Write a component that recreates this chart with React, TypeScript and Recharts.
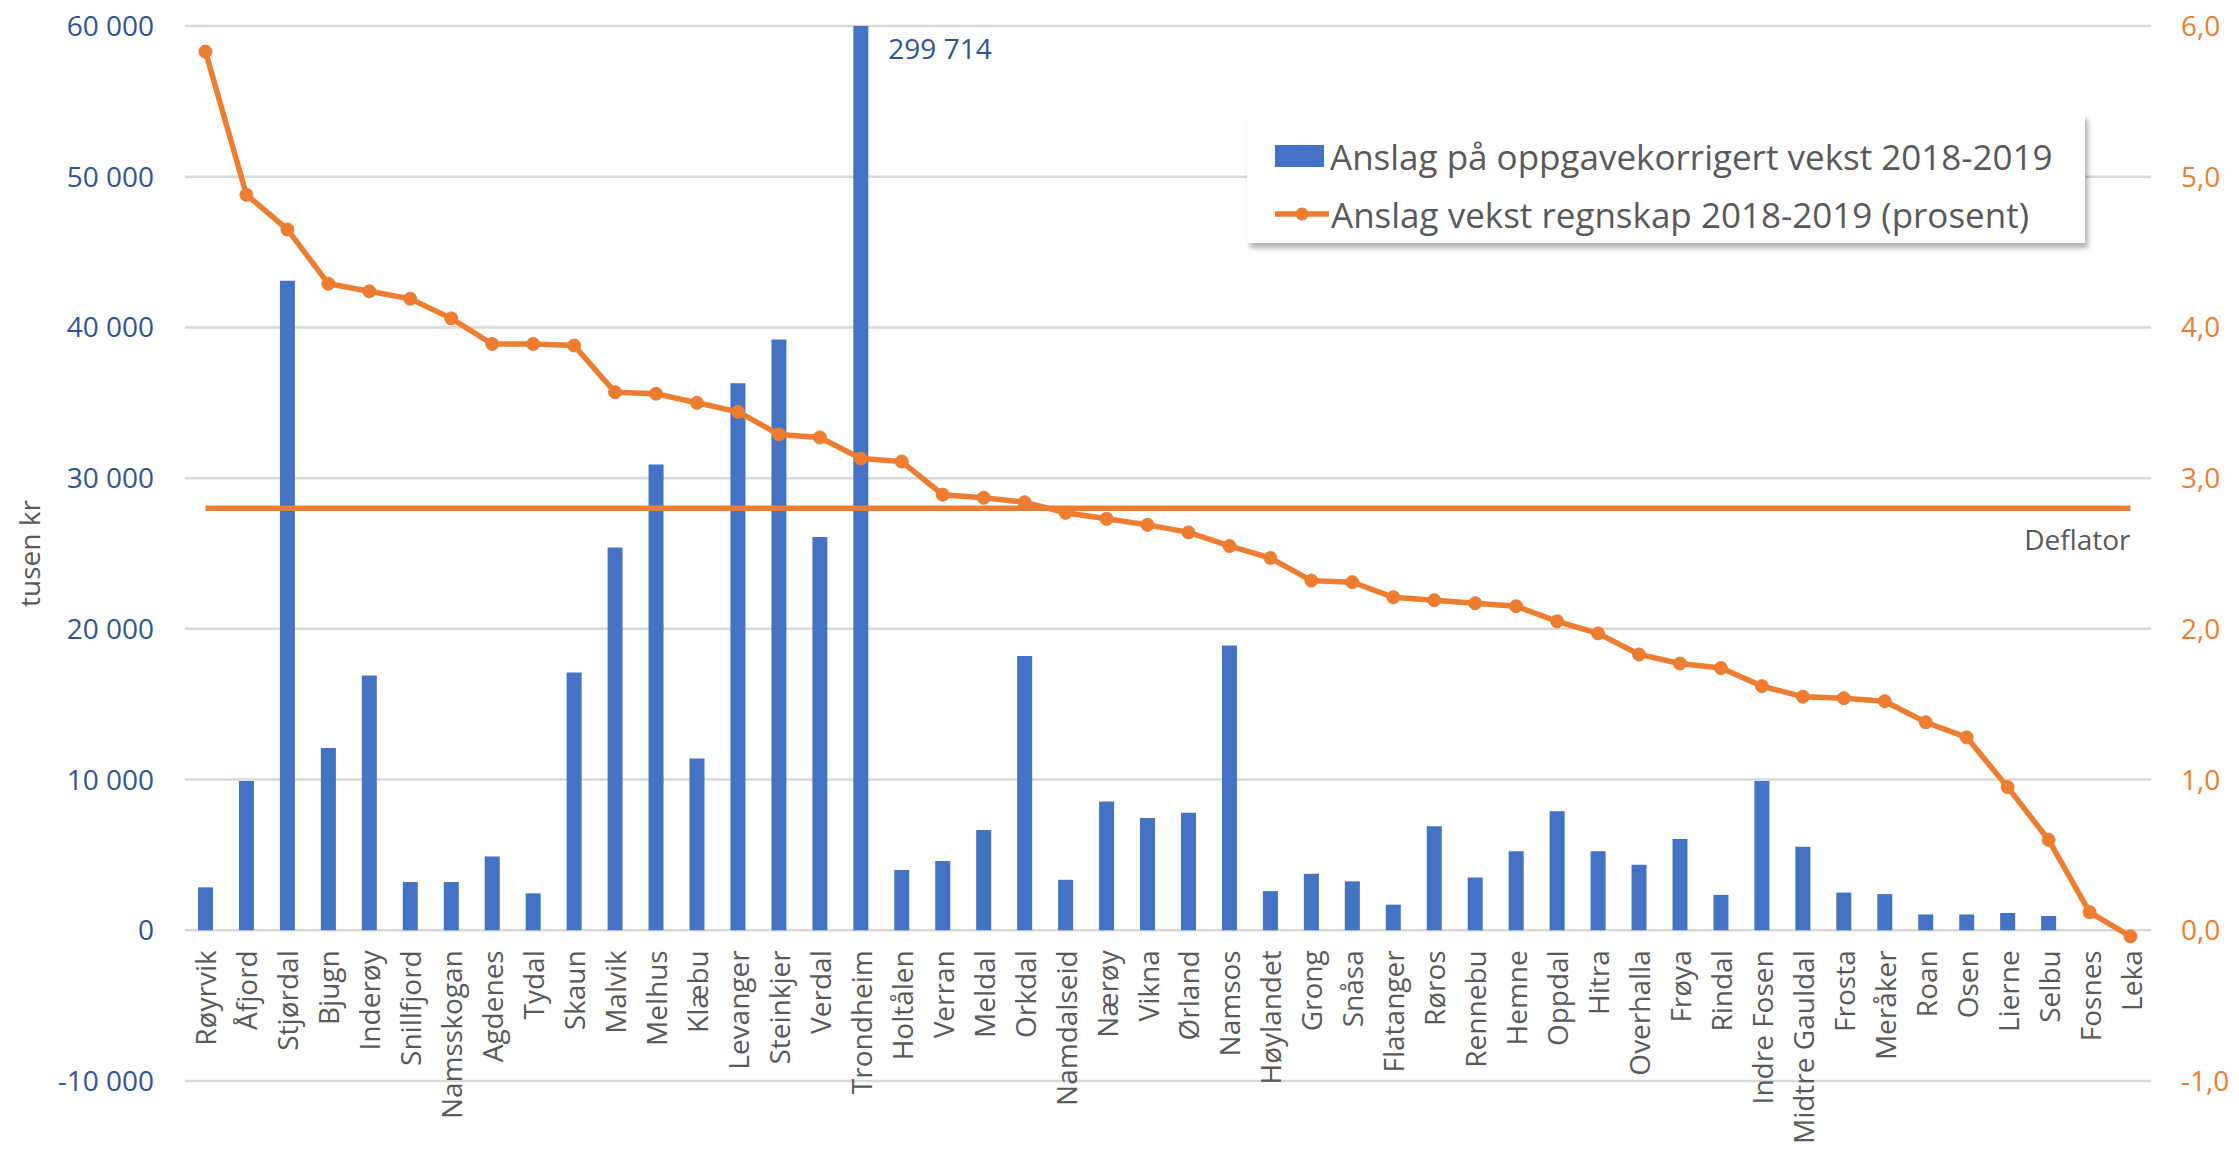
import React from "react";
import {
  ComposedChart,
  Bar,
  Line,
  XAxis,
  YAxis,
  CartesianGrid,
  LabelList,
  ReferenceLine,
} from "recharts";

// Kommuner, sortert etter vekst i prosent
const kommuner: string[] = [
  "Røyrvik", "Åfjord", "Stjørdal", "Bjugn", "Inderøy", "Snillfjord", "Namsskogan", "Agdenes",
  "Tydal", "Skaun", "Malvik", "Melhus", "Klæbu", "Levanger", "Steinkjer", "Verdal",
  "Trondheim", "Holtålen", "Verran", "Meldal", "Orkdal", "Namdalseid", "Nærøy", "Vikna",
  "Ørland", "Namsos", "Høylandet", "Grong", "Snåsa", "Flatanger", "Røros", "Rennebu",
  "Hemne", "Oppdal", "Hitra", "Overhalla", "Frøya", "Rindal", "Indre Fosen", "Midtre Gauldal",
  "Frosta", "Meråker", "Roan", "Osen", "Lierne", "Selbu", "Fosnes", "Leka",
];

// Anslag på oppgavekorrigert vekst 2018-2019 (tusen kr)
const vekstKr: number[] = [
  2850, 9900, 43100, 12100, 16900, 3200, 3200, 4900,
  2450, 17100, 25400, 30900, 11400, 36300, 39200, 26100,
  299714, 4000, 4600, 6650, 18200, 3350, 8550, 7450,
  7800, 18900, 2600, 3750, 3250, 1700, 6900, 3500,
  5250, 7900, 5250, 4350, 6050, 2350, 9900, 5550,
  2500, 2400, 1050, 1050, 1150, 950, 0, 0,
];

// Anslag vekst regnskap 2018-2019 (prosent)
const vekstProsent: number[] = [
  5.83, 4.88, 4.65, 4.29, 4.24, 4.19, 4.06, 3.89,
  3.89, 3.88, 3.57, 3.56, 3.5, 3.44, 3.29, 3.27,
  3.13, 3.11, 2.89, 2.87, 2.84, 2.77, 2.73, 2.69,
  2.64, 2.55, 2.47, 2.32, 2.31, 2.21, 2.19, 2.17,
  2.15, 2.05, 1.97, 1.83, 1.77, 1.74, 1.62, 1.55,
  1.54, 1.52, 1.38, 1.28, 0.95, 0.6, 0.12, -0.04,
];

const deflator = 2.8;

const leftTicks: number[] = [-10000, 0, 10000, 20000, 30000, 40000, 50000, 60000];
const rightTicks: number[] = [-1, 0, 1, 2, 3, 4, 5, 6];

const data = kommuner.map((name, i) => ({
  name,
  kr: vekstKr[i],
  pct: vekstProsent[i],
}));

const W = 2239;
const H = 1153;
const TOP = 26;
const X_AXIS_H = 72;
const BLUE = "#4472c4";
const ORANGE = "#ed7d31";
const GREY = "#595959";
const FONT = "'Open Sans', sans-serif";

const leftMin = leftTicks[0];
const leftMax = leftTicks[leftTicks.length - 1];
const plotH = H - TOP - X_AXIS_H;
// x axis crosses the value axis at 0, not at the bottom
const zeroShift = (plotH * (0 - leftMin)) / (leftMax - leftMin);

const fmtKr = (v: number) => {
  const s = Math.abs(v).toString().replace(/\B(?=(\d{3})+(?!\d))/g, " ");
  return (v < 0 ? "-" : "") + s;
};
const fmtPct = (v: number) => v.toFixed(1).replace(".", ",");

const CategoryTick = (props: any) => {
  const { x, payload } = props;
  const y = H - X_AXIS_H - zeroShift + 20;
  return (
    <text
      x={x}
      y={y}
      transform={`rotate(-90, ${x}, ${y})`}
      textAnchor="end"
      dominantBaseline="central"
      fill={GREY}
      style={{ fontFamily: FONT, fontSize: 28 }}
    >
      {payload.value}
    </text>
  );
};

const renderOverflowLabel = (props: any) => {
  const { x, width, value } = props;
  if (value <= leftMax) return null;
  return (
    <text
      x={x + width + 20}
      y={TOP + 22}
      dominantBaseline="central"
      fill="#2f5597"
      style={{ fontFamily: FONT, fontSize: 28 }}
    >
      {fmtKr(value)}
    </text>
  );
};

const renderDeflatorLabel = (props: any) => {
  const vb = props.viewBox || {};
  const right = (vb.x ?? 0) + (vb.width ?? 0);
  return (
    <text
      x={right}
      y={(vb.y ?? 0) + 31}
      textAnchor="end"
      dominantBaseline="central"
      fill={GREY}
      style={{ fontFamily: FONT, fontSize: 28 }}
    >
      Deflator
    </text>
  );
};

// legend box drawn on top of the chart, so it does not take space from the plot
const LegendBox = () => (
  <div
    style={{
      position: "absolute",
      left: 1247,
      top: 114,
      width: 838,
      height: 129,
      background: "#fff",
      boxShadow: "3px 5px 5px rgba(0,0,0,0.3)",
      padding: "10px 0 0 28px",
      boxSizing: "border-box",
      fontFamily: FONT,
      fontSize: 35,
      color: GREY,
      whiteSpace: "nowrap",
    }}
  >
    <div style={{ display: "flex", alignItems: "center", height: 64 }}>
      <span style={{ width: 49, height: 22, background: BLUE, marginRight: 6 }} />
      Anslag på oppgavekorrigert vekst 2018-2019
    </div>
    <div style={{ display: "flex", alignItems: "center", height: 52 }}>
      <svg width={54} height={20} style={{ marginRight: 2 }}>
        <line x1={0} y1={10} x2={54} y2={10} stroke={ORANGE} strokeWidth={5.5} />
        <circle cx={27} cy={10} r={6.5} fill={ORANGE} />
      </svg>
      Anslag vekst regnskap 2018-2019 (prosent)
    </div>
  </div>
);

export default function App() {
  return (
    <div style={{ position: "absolute", left: 0, top: 0, width: W, height: H, background: "#fff" }}>
      <ComposedChart width={W} height={H} data={data} margin={{ top: TOP, right: 0, bottom: 0, left: 0 }}>
        <CartesianGrid yAxisId="left" vertical={false} stroke="#d9d9d9" strokeWidth={2.5} />
        <XAxis
          dataKey="name"
          interval={0}
          height={X_AXIS_H}
          axisLine={false}
          tickLine={false}
          tick={<CategoryTick />}
        />
        <YAxis
          yAxisId="left"
          width={185}
          domain={[leftMin, leftMax]}
          ticks={leftTicks}
          allowDataOverflow
          axisLine={false}
          tickLine={false}
          tickSize={0}
          tickMargin={31}
          tickFormatter={fmtKr}
          tick={{ fill: "#2f5597", fontFamily: FONT, fontSize: 28 }}
          label={{
            value: "tusen kr",
            angle: -90,
            position: "insideLeft",
            offset: 30,
            style: { fill: GREY, fontFamily: FONT, fontSize: 28, textAnchor: "middle" },
          }}
        />
        <YAxis
          yAxisId="right"
          orientation="right"
          width={88}
          domain={[rightTicks[0], rightTicks[rightTicks.length - 1]]}
          ticks={rightTicks}
          axisLine={false}
          tickLine={false}
          tickSize={0}
          tickMargin={30}
          tickFormatter={fmtPct}
          tick={{ fill: ORANGE, fontFamily: FONT, fontSize: 28 }}
        />
        <Bar
          yAxisId="left"
          dataKey="kr"
          name="Anslag på oppgavekorrigert vekst 2018-2019"
          fill={BLUE}
          barSize={15}
          isAnimationActive={false}
        >
          <LabelList dataKey="kr" content={renderOverflowLabel} />
        </Bar>
        <ReferenceLine
          yAxisId="right"
          segment={[
            { x: kommuner[0], y: deflator },
            { x: kommuner[kommuner.length - 1], y: deflator },
          ]}
          stroke={ORANGE}
          strokeWidth={5.5}
          label={renderDeflatorLabel}
        />
        <Line
          yAxisId="right"
          dataKey="pct"
          name="Anslag vekst regnskap 2018-2019 (prosent)"
          stroke={ORANGE}
          strokeWidth={5.5}
          dot={{ r: 6.5, fill: ORANGE, stroke: ORANGE, strokeWidth: 1 }}
          isAnimationActive={false}
        />
      </ComposedChart>
      <LegendBox />
    </div>
  );
}
